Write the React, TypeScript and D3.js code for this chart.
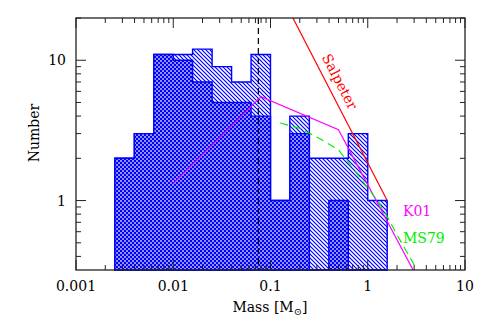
import * as d3 from "d3";

// bin edges in solar masses (0.2 dex bins)
const massEdges = [0.00251, 0.00398, 0.00631, 0.01, 0.0158, 0.0251, 0.0398, 0.0631, 0.1, 0.158, 0.251, 0.398, 0.631, 1.0, 1.585];
// full sample (single hatch) and sub-sample (cross hatch)
const totalCounts = [2, 3, 11, 11, 12, 9, 7, 11, 1, 4, 2, 2, 3, 1];
const crossCounts = [2, 3, 11, 10, 7, 5, 5, 4, 1, 3, 0, 1, 0, 0];

const salpeterMass = [0.17, 1.585];
const salpeterN = [20, 1];

const k01Mass = [0.01, 0.08, 0.5, 3.0];
const k01N = [1.32, 5.5, 3.2, 0.31];

const ms79Mass = [0.126, 0.2, 0.316, 0.5, 0.8, 1.0, 1.26, 1.58, 2.0, 3.3];
const ms79N = [3.57, 3.27, 2.78, 2.3, 1.51, 1.23, 1.0, 0.77, 0.57, 0.31];

const hbLimit = 0.075;

const xTickLabels = ["0.001", "0.01", "0.1", "1", "10"];
const yTickLabels = ["1", "10"];

const W = 491;
const H = 328;
const left = 76, right = 465, top = 18, bottom = 270;
const font = "'DejaVu Serif', serif";

export default function App() {
  const x = d3.scaleLog().domain([0.001, 10]).range([left, right]);
  const y = d3.scaleLog().domain([0.32, 20]).range([bottom, top]);

  const stepPath = (counts: number[]) => {
    let d = `M${x(massEdges[0])},${bottom}`;
    counts.forEach((c, i) => {
      const yy = c > 0 ? y(c) : bottom;
      d += `L${x(massEdges[i])},${yy}L${x(massEdges[i + 1])},${yy}`;
    });
    d += `L${x(massEdges[massEdges.length - 1])},${bottom}Z`;
    return d;
  };

  const line = d3
    .line<[number, number]>()
    .x((d) => x(d[0]))
    .y((d) => y(d[1]));
  const zip = (a: number[], b: number[]) => a.map((v, i) => [v, b[i]] as [number, number]);

  const xTicks = x.ticks();
  const yTicks = y.ticks();
  const isMajor = (v: number) => Math.abs(Math.log10(v) - Math.round(Math.log10(v))) < 1e-6;

  // angle of Salpeter line on screen
  const sx0 = x(salpeterMass[0]), sy0 = y(salpeterN[0]);
  const sx1 = x(salpeterMass[1]), sy1 = y(salpeterN[1]);
  const ang = (Math.atan2(sy1 - sy0, sx1 - sx0) * 180) / Math.PI;

  return (
    <div style={{ position: "absolute", left: 0, top: 0 }}>
      <svg width={W} height={H} style={{ display: "block", background: "#fff" }}>
        <defs>
          <pattern id="hatch" patternUnits="userSpaceOnUse" width="4" height="4">
            <rect width="4" height="4" fill="#fff" />
            <path d="M-1,-1L5,5M3,-1L5,1M-1,3L1,5" stroke="#0000ff" strokeWidth="1.2" />
          </pattern>
          <pattern id="cross" patternUnits="userSpaceOnUse" width="4" height="4">
            <rect width="4" height="4" fill="#0000ff" />
            <rect x="0.25" y="0.25" width="1.5" height="1.5" fill="#fff" />
            <rect x="2.25" y="2.25" width="1.5" height="1.5" fill="#fff" />
          </pattern>
          <clipPath id="plot">
            <rect x={left} y={top} width={right - left} height={bottom - top} />
          </clipPath>
        </defs>

        <path d={stepPath(totalCounts)} fill="url(#hatch)" stroke="#0000ff" strokeWidth="1.4" />
        <path d={stepPath(crossCounts)} fill="url(#cross)" stroke="#0000ff" strokeWidth="1.4" />

        <g clipPath="url(#plot)" fill="none" strokeWidth="1.2">
          <line x1={x(hbLimit)} x2={x(hbLimit)} y1={top} y2={bottom} stroke="#000" strokeDasharray="6,4" />
          <path d={line(zip(salpeterMass, salpeterN)) || ""} stroke="#ff0000" />
          <path d={line(zip(k01Mass, k01N)) || ""} stroke="#ff00ff" />
          <path d={line(zip(ms79Mass, ms79N)) || ""} stroke="#00ee00" strokeDasharray="8,5" />
        </g>

        {/* ticks on all four sides */}
        <g stroke="#222" strokeWidth="1">
          {xTicks.map((t, i) => {
            const len = isMajor(t) ? 10 : 5;
            return (
              <g key={"x" + i}>
                <line x1={x(t)} x2={x(t)} y1={bottom} y2={bottom - len} />
                <line x1={x(t)} x2={x(t)} y1={top} y2={top + len} />
              </g>
            );
          })}
          {yTicks.map((t, i) => {
            const len = isMajor(t) ? 10 : 5;
            return (
              <g key={"y" + i}>
                <line x1={left} x2={left + len} y1={y(t)} y2={y(t)} />
                <line x1={right} x2={right - len} y1={y(t)} y2={y(t)} />
              </g>
            );
          })}
        </g>
        <rect x={left} y={top} width={right - left} height={bottom - top} fill="none" stroke="#222" strokeWidth="1.3" />

        <g fontFamily={font} fontSize="14" fill="#000">
          {xTickLabels.map((l) => (
            <text key={l} x={x(+l)} y={291} textAnchor="middle">
              {l}
            </text>
          ))}
          {yTickLabels.map((l) => (
            <text key={l} x={66} y={y(+l) + 5} textAnchor="end">
              {l}
            </text>
          ))}
          <text x={270} y={312} textAnchor="middle">
            Mass [M
            <tspan fontSize="10" dy="3">
              ⊙
            </tspan>
            <tspan dy="-3">]</tspan>
          </text>
          <text transform="translate(39,133) rotate(-90)" textAnchor="middle">
            Number
          </text>
          <text
            transform={`translate(339,82) rotate(${ang})`}
            textAnchor="middle"
            dominantBaseline="middle"
            fill="#ff0000"
          >
            Salpeter
          </text>
          <text x={403} y={216} fill="#ff00ff">
            K01
          </text>
          <text x={403} y={243} fill="#00ee00">
            MS79
          </text>
        </g>
      </svg>
    </div>
  );
}
